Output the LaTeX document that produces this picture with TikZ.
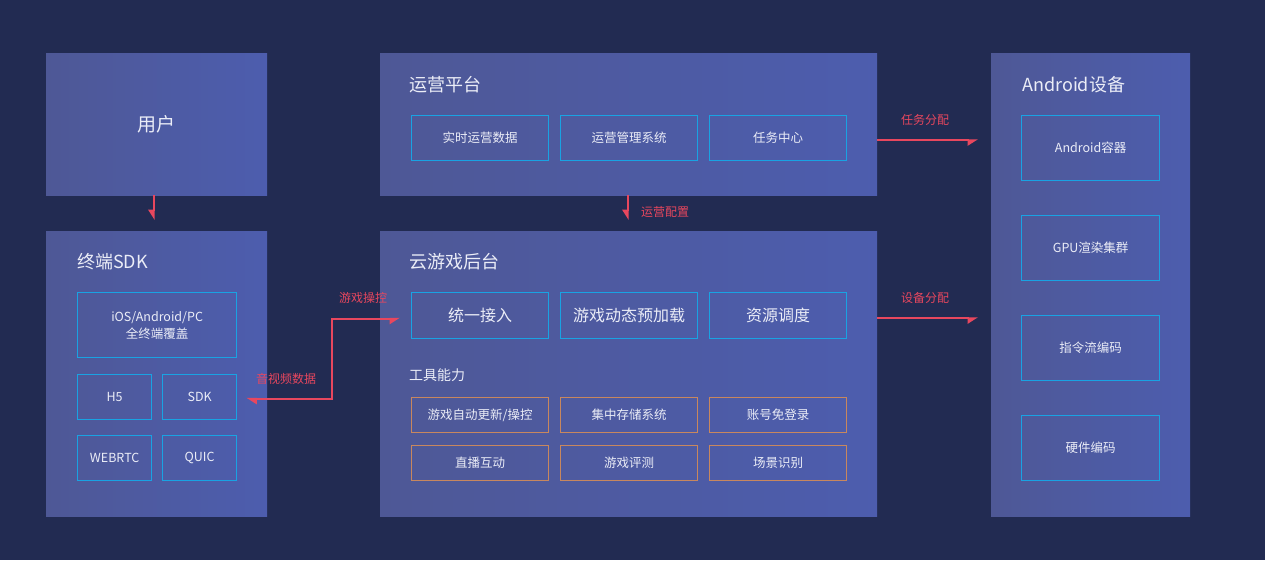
\documentclass[tikz,border=0pt]{standalone}
\usepackage{fontspec}
\setmainfont{Noto Sans CJK SC}
\usetikzlibrary{arrows.meta}
\definecolor{bg}{HTML}{222B52}
\definecolor{boxl}{HTML}{4E5896}
\definecolor{boxr}{HTML}{4D5DAE}
\definecolor{cyanb}{HTML}{19A3E3}
\definecolor{orab}{HTML}{C8875E}
\definecolor{redl}{HTML}{E8475E}
\definecolor{txt}{HTML}{EBEDF7}
\tikzset{
  panel/.style={anchor=north west, inner sep=0pt, draw=none, left color=boxl, right color=boxr, text=txt},
  ptitle/.style={anchor=west, inner sep=0pt, text=txt, font=\fontsize{18}{22}\selectfont},
  cbox/.style={anchor=north west, draw=cyanb, line width=1.3pt, inner sep=0pt, text=txt,
    font=\fontsize{12.5}{17}\selectfont, align=center},
  obox/.style={cbox, draw=orab, minimum width=137pt, minimum height=35pt},
  redarrow/.style={draw=redl, line width=1.8pt,
    -{Triangle[harpoon, swap, length=9pt, width=11pt]}},
  rlabel/.style={text=redl, inner sep=0pt, font=\fontsize{12}{14}\selectfont},
}
\begin{document}
\begin{tikzpicture}[x=1pt, y=-1pt]
\useasboundingbox (0,0) rectangle (1265,560);
\fill[bg] (0,0) rectangle (1265,560);

% panels
\node[panel, minimum width=221pt, minimum height=142pt, font=\fontsize{19}{22}\selectfont] (user) at (46,53) {};
\node[text=txt, inner sep=0pt, font=\fontsize{19}{22}\selectfont] (usert) at (user.center) {用户};
\node[panel, minimum width=221pt, minimum height=285pt] (term) at (46,231) {};
\node[panel, minimum width=497pt, minimum height=142pt] (ops) at (380,53) {};
\node[panel, minimum width=497pt, minimum height=285pt] (cloud) at (380,231) {};
\node[panel, minimum width=199pt, minimum height=463pt] (android) at (991,53) {};

% titles
\node[ptitle] (termt) at (77,262) {终端SDK};
\node[ptitle] (opst) at (409,85) {运营平台};
\node[ptitle] (cloudt) at (409,262) {云游戏后台};
\node[ptitle] (andt) at (1022,85) {Android设备};
\node[ptitle, font=\fontsize{14}{17}\selectfont] (toolt) at (409,375) {工具能力};

% terminal SDK boxes
\node[cbox, minimum width=159pt, minimum height=65pt] (ios) at (77,292) {iOS/Android/PC\\全终端覆盖};
\node[cbox, minimum width=74pt, minimum height=45pt] (h5) at (77,374) {H5};
\node[cbox, minimum width=74pt, minimum height=45pt] (sdk) at (162,374) {SDK};
\node[cbox, minimum width=74pt, minimum height=45pt] (webrtc) at (77,435) {WEBRTC};
\node[cbox, minimum width=74pt, minimum height=45pt] (quic) at (162,435) {QUIC};

% ops boxes
\node[cbox, minimum width=137pt, minimum height=45pt] (rt) at (411,115) {实时运营数据};
\node[cbox, minimum width=137pt, minimum height=45pt] (mgmt) at (560,115) {运营管理系统};
\node[cbox, minimum width=137pt, minimum height=45pt] (task) at (709,115) {任务中心};

% cloud boxes
\node[cbox, minimum width=137pt, minimum height=46pt, font=\fontsize{16}{19}\selectfont] (access) at (411,292) {统一接入};
\node[cbox, minimum width=137pt, minimum height=46pt, font=\fontsize{16}{19}\selectfont] (preload) at (560,292) {游戏动态预加载};
\node[cbox, minimum width=137pt, minimum height=46pt, font=\fontsize{16}{19}\selectfont] (sched) at (709,292) {资源调度};

\node[obox] (t1) at (411,397) {游戏自动更新/操控};
\node[obox] (t2) at (560,397) {集中存储系统};
\node[obox] (t3) at (709,397) {账号免登录};
\node[obox] (t4) at (411,445) {直播互动};
\node[obox] (t5) at (560,445) {游戏评测};
\node[obox] (t6) at (709,445) {场景识别};

% android boxes
\node[cbox, minimum width=138pt, minimum height=65pt] (a1) at (1021,115) {Android容器};
\node[cbox, minimum width=138pt, minimum height=65pt] (a2) at (1021,215) {GPU渲染集群};
\node[cbox, minimum width=138pt, minimum height=65pt] (a3) at (1021,315) {指令流编码};
\node[cbox, minimum width=138pt, minimum height=65pt] (a4) at (1021,415) {硬件编码};

% connectors
\draw[redarrow, shorten >=11pt] ([xshift=-3pt]user.south) -- ([xshift=-3pt]term.north);
\draw[redarrow, shorten >=11pt] ([xshift=-1pt]ops.south) -- ([xshift=-1pt]cloud.north);
\draw[redarrow, shorten >=13pt] ([yshift=-16pt]ops.east) -- ([yshift=-16pt]ops.east -| android.west);
\draw[redarrow, shorten >=13pt] ([yshift=55.5pt]cloud.east) -- ([yshift=55.5pt]cloud.east -| android.west);
\draw[draw=redl, line width=1.8pt, shorten <=9pt, shorten >=11pt,
  {Triangle[harpoon, length=9pt, width=11pt]}-{Triangle[harpoon, swap, length=9pt, width=11pt]}]
  ([yshift=-1.5pt]sdk.east) -- ++(95,0) |- ([yshift=-3pt]access.west);

% labels
\node[rlabel] (l1) at (665,212) {运营配置};
\node[rlabel] (l2) at (925,120) {任务分配};
\node[rlabel] (l3) at (925,298) {设备分配};
\node[rlabel] (l4) at (363,298) {游戏操控};
\node[rlabel] (l5) at (286,379) {音视频数据};
\end{tikzpicture}
\end{document}
